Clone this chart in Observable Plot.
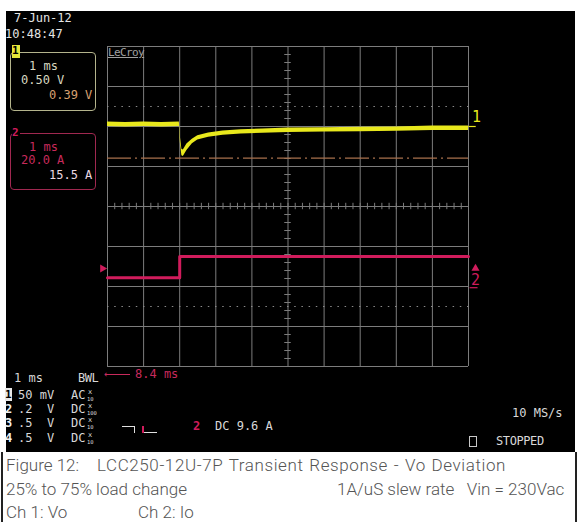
<!DOCTYPE html>
<html>
<head>
<meta charset="utf-8">
<script src="https://cdn.jsdelivr.net/npm/d3@7"></script>
<script src="https://cdn.jsdelivr.net/npm/@observablehq/plot@0.6"></script>
<style>
  html, body { margin: 0; padding: 0; background: #fff; }
  #page { position: relative; width: 579px; height: 522px; overflow: hidden; background: #fff; }
  #scope { position: absolute; left: 6px; top: 11px; width: 569px; height: 441px; background: #000; }
  #scope svg { position: absolute; left: 0; top: 0; }
  .t { position: absolute; white-space: pre; font-family: "DejaVu Sans Mono", monospace; font-size: 12px; line-height: 12px; color: #d8d8d8; }
  .cap { position: absolute; white-space: pre; font-family: Roboto, "Open Sans", sans-serif; font-weight: 300; font-size: 17px; line-height: 20px; color: #555; }
</style>
</head>
<body>
<div id="page">
  <div id="scope"></div>
</div>
<script>
// ---- Data (oscilloscope divisions: x in ms, y in divisions) ----
const xTicks = [0, 1, 2, 3, 4, 5, 6, 7, 8, 9, 10];
const yTicks = [-4, -3, -2, -1, 0, 1, 2, 3, 4];
const dottedLevels = [2.5, -2.5];
const ch2DcLevel = [1.21];

// Ch 1: Vo (50 mV/div, AC) — upper/lower envelope of the noisy trace
const voTime = [0, 0.5, 1.0, 1.5, 1.99, 2.02, 2.06, 2.1, 2.2, 2.35, 2.5, 2.8, 3.2, 3.7, 4.3, 5.0, 6.0, 7.0, 8.0, 9.0, 10];
const voMax  = [2.11, 2.10, 2.11, 2.10, 2.11, 1.73, 1.43, 1.41, 1.56, 1.68, 1.77, 1.84, 1.89, 1.92, 1.94, 1.96, 1.97, 1.98, 1.99, 2.01, 2.01];
const voMin  = [2.00, 1.99, 2.00, 1.99, 2.00, 1.57, 1.27, 1.25, 1.40, 1.57, 1.66, 1.73, 1.78, 1.81, 1.83, 1.85, 1.86, 1.87, 1.88, 1.90, 1.90];
const ch1Offset = 2.0;

// Ch 2: Io (20 A/div)
const ioTime = [0, 2.0, 10];
const ioLevel = [-1.78, -1.25, -1.25];
const ch2Offset = -1.55;

const vo = voTime.map((t, i) => ({t, hi: voMax[i], lo: voMin[i]}));
const io = ioTime.map((t, i) => ({t, v: ioLevel[i]}));

const minorX = d3.range(0, 10.001, 0.2);
const minorY = d3.range(-4, 4.001, 0.2);
const xMax = d3.max(xTicks);
const xMid = d3.median(xTicks);

const YEL = "#e8e81c", MAG = "#d01c5c", GRID = "#7c7c7c";

const chart = Plot.plot({
  width: 569, height: 441,
  marginLeft: 101, marginRight: 107, marginTop: 35, marginBottom: 86,
  x: {domain: [0, 10], axis: null},
  y: {domain: [-4, 4], axis: null},
  style: {background: "#000", overflow: "visible"},
  marks: [
    Plot.ruleX(xTicks, {stroke: GRID, strokeWidth: 1, strokeOpacity: 1}),
    Plot.ruleY(yTicks, {stroke: GRID, strokeWidth: 1, strokeOpacity: 1}),
    Plot.ruleX(minorX, {x: d => d, y1: -0.08, y2: 0.08, stroke: GRID}),
    Plot.ruleY(minorY, {y: d => d, x1: xMid - 0.09, x2: xMid + 0.09, stroke: GRID}),
    Plot.ruleY(dottedLevels, {stroke: "#8a8a8a", strokeDasharray: "1.5,5.7", strokeWidth: 1.2}),
    Plot.ruleY(ch2DcLevel, {stroke: "#a8704c", strokeDasharray: "24,4,2,4", strokeWidth: 1.3}),
    Plot.line(io, {x: "t", y: "v", curve: "step-after", stroke: MAG, strokeWidth: 3}),
    Plot.areaY(vo, {x: "t", y1: "lo", y2: "hi", fill: YEL}),
    // channel markers
    Plot.text([ch1Offset], {x: xMax, y: d => d, text: () => "1", dx: 8, dy: -9, fill: YEL, fontSize: 15, fontFamily: "DejaVu Sans Mono"}),
    Plot.link([ch1Offset], {x1: xMax, x2: xMax + 0.2, y1: d => d, y2: d => d, stroke: YEL, strokeWidth: 1.2}),
    Plot.dot([ch2Offset], {x: 0, y: d => d, symbol: "triangle", rotate: 90, r: 3, dx: -5, fill: MAG, stroke: "none"}),
    Plot.dot([ch2Offset], {x: xMax, y: d => d, symbol: "triangle", r: 3, dx: 7, fill: MAG, stroke: "none"}),
    Plot.text([ch2Offset], {x: xMax, y: d => d, text: () => "2", dx: 7, dy: 12, fill: MAG, fontSize: 15, fontFamily: "DejaVu Sans Mono"}),
    Plot.link([ch2Offset], {x1: xMax + 0.03, x2: xMax + 0.25, y1: d => d - 0.48, y2: d => d - 0.48, stroke: MAG, strokeWidth: 1.2})
  ]
});
document.getElementById("scope").appendChild(chart);

// ---- On-screen oscilloscope annotations ----
const page = document.getElementById("page");
function T(txt, x, cy, color, opts = {}) {
  const d = document.createElement("div");
  d.className = "t";
  d.textContent = txt;
  d.style.left = x + "px";
  const fs = opts.size || 12;
  d.style.fontSize = fs + "px";
  d.style.top = (cy - 6) + "px";
  if (color) d.style.color = color;
  if (opts.bold) d.style.fontWeight = "bold";
  if (opts.under) d.style.textDecoration = "underline";
  if (opts.ls != null) d.style.letterSpacing = opts.ls + "px";
  page.appendChild(d);
  return d;
}
function B(x, y, w, h, style) {
  const d = document.createElement("div");
  d.style.position = "absolute";
  d.style.left = x + "px"; d.style.top = y + "px";
  d.style.width = w + "px"; d.style.height = h + "px";
  Object.assign(d.style, style);
  page.appendChild(d);
  return d;
}

T("7-Jun-12", 14, 18, "#e4e4e4");
T("10:48:47", 5, 34, "#e4e4e4");

// LeCroy tag
T("LeCroy", 108, 53, "#a0a0a0", {size: 11, under: true, ls: -0.6});

// Channel 1 box
B(10, 52, 84, 57, {border: "1px solid #b4b48c", borderRadius: "4px"});
B(12, 45, 8, 13, {background: "#e6e63a"});
T("1", 12, 51, "#000", {bold: true, size: 11});
T("1 ms", 29, 66, "#d8d8c0");
T("0.50 V", 21, 80, "#d8d8c0");
T("0.39 V", 49, 95, "#d8a070");

// Channel 2 box
B(10, 133, 84, 55, {border: "1px solid #a02850", borderRadius: "4px"});
B(12, 127, 8, 13, {background: "#000"});
T("2", 12, 133, MAG, {bold: true, size: 11});
T("1 ms", 29, 147, "#c82a5c");
T("20.0 A", 21, 160, "#c82a5c");
T("15.5 A", 49, 175, "#ecd8e0");

// Bottom info
T("1 ms", 14, 378, "#d8d8d8");
T("BWL", 78, 378, "#d8d8d8", {ls: -0.5});
B(108, 374, 22, 0, {borderTop: "1px solid #c82a5c"});
T("\u2190", 104, 374, "#c82a5c", {size: 12});
T("8.4 ms", 135, 374, "#c82a5c", {size: 12});

const rows = [
  ["1", "50 mV", "AC", "10", 395],
  ["2", ".2  V", "DC", "100", 409],
  ["3", ".5  V", "DC", "10", 423],
  ["4", ".5  V", "DC", "10", 438]
];
rows.forEach(([n, v, c, p, cy], i) => {
  if (i === 0) {
    B(5, cy - 7, 7, 13, {background: "#e8e8e8"});
    T(n, 5, cy, "#000", {bold: true, size: 11});
  } else {
    T(n, 5, cy, "#f0f0f0", {bold: true, size: 12});
  }
  T(v, 18, cy, "#d8d8d8");
  T(c, 71, cy, "#d8d8d8");
  T("x", 88, cy - 3, "#d8d8d8", {size: 7});
  T(p, 87, cy + 4, "#d8d8d8", {size: 5.5});
});

// Trigger glyph
B(122, 426, 13, 0, {borderTop: "1px solid #e0e0e0"});
B(134, 426, 0, 7, {borderLeft: "1px solid #e0e0e0"});
B(142, 426, 0, 7, {borderLeft: "2px solid " + MAG});
B(144, 432, 13, 0, {borderTop: "1px solid #e0e0e0"});
T("2", 193, 426, MAG, {bold: true, size: 12});
T("DC 9.6 A", 215, 426, "#d8d8d8");

T("10 MS/s", 512, 413, "#d8d8d8");
B(469, 436, 6, 9, {border: "1px solid #c8c8c8"});
T("STOPPED", 496, 441, "#d8d8d8", {ls: -0.4});

// ---- Caption ----
B(1, 452, 0, 70, {borderLeft: "2px solid #222"});
B(575, 452, 0, 70, {borderLeft: "2px solid #222"});
function C(txt, x, cy, extra) {
  const d = document.createElement("div");
  d.className = "cap";
  d.textContent = txt;
  d.style.left = x + "px";
  d.style.top = (cy - 10) + "px";
  if (extra) Object.assign(d.style, extra);
  page.appendChild(d);
}
C("Figure 12:", 6, 465);
C("LCC250-12U-7P Transient Response - Vo Deviation", 97, 465, {letterSpacing: "0.6px", wordSpacing: "1px"});
C("25% to 75% load change", 6, 489);
C("1A/uS slew rate   Vin = 230Vac", 337, 489);
C("Ch 1: Vo", 6, 512);
C("Ch 2: Io", 138, 512);
</script>
</body>
</html>
